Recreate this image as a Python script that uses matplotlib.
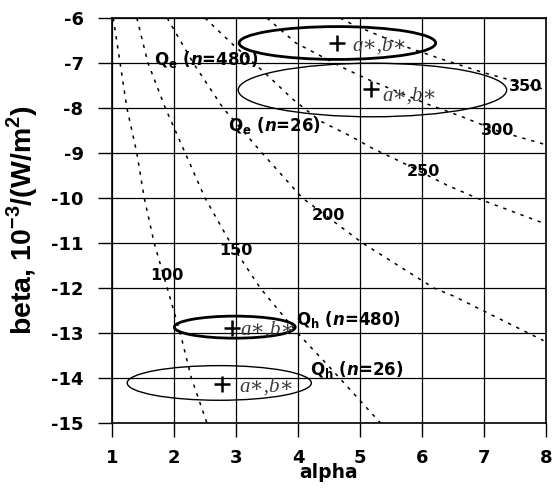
import matplotlib
matplotlib.use('Agg')
import matplotlib.pyplot as plt
from matplotlib.patches import Ellipse

plt.rcParams['font.family'] = ['DejaVu Sans']
plt.rcParams['font.weight'] = 'bold'
plt.rcParams['axes.unicode_minus'] = False
plt.rcParams['mathtext.fontset'] = 'custom'
plt.rcParams['mathtext.rm'] = 'Liberation Sans:bold'
plt.rcParams['mathtext.bf'] = 'DejaVu Sans:bold'
plt.rcParams['mathtext.it'] = 'DejaVu Sans:italic:bold'

# iso-lines (alpha, beta)
q_levels = [100, 150, 200, 250, 300, 350]
q_alpha = [
    [1.02, 1.13, 1.24, 1.40, 1.52, 1.68, 1.89, 2.10, 2.28, 2.53],
    [1.40, 1.58, 1.86, 2.18, 2.50, 2.91, 3.39, 3.99, 4.47, 5.33],
    [1.89, 2.31, 2.79, 3.42, 4.07, 5.04, 6.19, 6.51, 7.96],
    [2.50, 2.95, 3.45, 3.92, 4.36, 4.84, 5.22, 5.65, 6.41, 6.90, 7.96],
    [3.50, 3.96, 4.72, 5.12, 6.10, 6.62, 7.22, 7.96],
    [4.68, 4.89, 5.78, 6.33, 6.98, 7.96],
]
q_beta = [
    [-6.0, -7.0, -8.0, -9.0, -10.0, -11.0, -12.0, -13.0, -14.0, -15.0],
    [-6.0, -7.0, -8.0, -9.0, -10.0, -11.0, -12.0, -13.0, -13.7, -15.0],
    [-6.0, -7.0, -8.0, -9.0, -10.0, -11.0, -12.0, -12.18, -13.17],
    [-6.0, -6.59, -7.2, -7.81, -8.29, -8.62, -8.91, -9.19, -9.72, -10.01, -10.56],
    [-6.0, -6.55, -7.1, -7.36, -7.92, -8.18, -8.51, -8.80],
    [-6.0, -6.15, -6.66, -6.92, -7.21, -7.58],
]
q_label_pos = [(1.89, -11.73), (2.99, -11.16), (4.49, -10.39),
               (6.02, -9.41), (7.22, -8.51), (7.67, -7.52)]

# confidence ellipses: centre, width, height, line width
ell_centers = [(4.635, -6.556), (5.20, -7.60), (2.98, -12.87), (2.73, -14.11)]
ell_widths = [3.17, 4.33, 1.95, 2.97]
ell_heights = [0.73, 1.19, 0.49, 0.77]
ell_lw = [2.0, 1.0, 2.0, 1.0]
best_pts = [(4.63, -6.55), (5.17, -7.58), (2.94, -12.88), (2.78, -14.14)]
best_lbl = [(4.88, -6.63), (5.36, -7.74), (3.07, -12.93), (3.05, -14.2)]

ell_names = [r'$\mathbf{Q_e}$ ($n$=480)', r'$\mathbf{Q_e}$ ($n$=26)',
             r'$\mathbf{Q_h}$ ($n$=480)', r'$\mathbf{Q_h}$ ($n$=26)']
ell_name_pos = [(1.68, -6.93), (2.87, -8.38), (3.97, -12.69), (4.20, -13.81)]

fig = plt.figure(figsize=(5.54, 4.97), dpi=100)
ax = fig.add_axes([0.2022, 0.1489, 0.7834, 0.8149])

for a, b in zip(q_alpha, q_beta):
    ax.plot(a, b, color='black', lw=1.1, linestyle=(0, (2.2, 3.8)))
for lev, (x, y) in zip(q_levels, q_label_pos):
    ax.text(x, y, str(lev), fontsize=11.5, fontweight='bold', ha='center', va='center')

for c, w, h, lw in zip(ell_centers, ell_widths, ell_heights, ell_lw):
    ax.add_patch(Ellipse(c, w, h, fill=False, edgecolor='black', lw=lw, zorder=3))
for (x, y) in best_pts:
    ax.plot(x, y, marker='+', color='black', ms=12, mew=1.8, zorder=4)
for (x, y) in best_lbl:
    ax.text(x, y, 'a∗,b∗', family=['Liberation Serif', 'DejaVu Serif'], style='italic',
            fontweight='normal', fontsize=15, color='#3a3a3a', ha='left', va='center')
for name, (x, y) in zip(ell_names, ell_name_pos):
    ax.text(x, y, name, fontsize=12, fontweight='bold', ha='left', va='center')

ax.set_xlim(1, 8)
ax.set_ylim(-15, -6)
ax.set_xticks(range(1, 9))
ax.set_yticks(range(-15, -5))
ax.grid(True, color='black', lw=0.9)
ax.tick_params(direction='out', length=10, width=1, labelsize=13)
ax.tick_params(axis='y', pad=10.5)
ax.tick_params(axis='x', pad=8.5)
for s in ax.spines.values():
    s.set_linewidth(1.2)
ax.set_xlabel('alpha', fontsize=13.5, fontweight='bold', labelpad=-3)
ax.set_ylabel(r'beta, 10$^{-3}$/(W/m$^2$)', family=['Liberation Sans'],
              fontsize=20.5, fontweight='bold', labelpad=8)

fig.savefig('out.png', dpi=100)
